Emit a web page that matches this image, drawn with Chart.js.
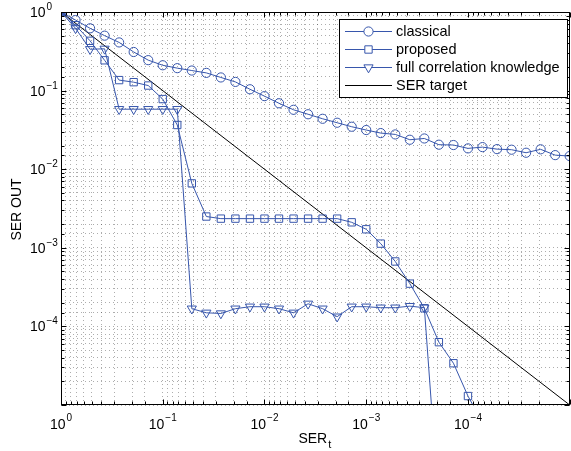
<!DOCTYPE html>
<html><head><meta charset="utf-8">
<script src="https://cdn.jsdelivr.net/npm/chart.js@4/dist/chart.umd.min.js"></script>
<style>
html,body{margin:0;padding:0;overflow:hidden;background:#fff;width:571px;height:451px}
#wrap{position:absolute;left:0;top:0;width:576px;height:451px}
</style>
</head><body><div id="wrap"><canvas id="c" width="576" height="451"></canvas></div>
<script>
// SER_t values (x axis)
const serT = [1, 0.7197, 0.5179, 0.3728, 0.2683, 0.1931, 0.1389,
  0.1, 0.07197, 0.05179, 0.03728, 0.02683, 0.01931, 0.01389,
  0.01, 0.007197, 0.005179, 0.003728, 0.002683, 0.001931, 0.001389,
  0.001, 7.197e-4, 5.179e-4, 3.728e-4, 2.683e-4, 1.931e-4, 1.389e-4,
  1e-4, 7.197e-5, 5.179e-5, 3.728e-5, 2.683e-5, 1.931e-5, 1.389e-5, 1e-5];
const classical = [1, 0.79, 0.62, 0.50, 0.41, 0.31, 0.244, 0.21, 0.193, 0.18, 0.168, 0.147,
  0.129, 0.104, 0.085, 0.069, 0.057, 0.050, 0.0438, 0.039, 0.0347, 0.0315, 0.0288, 0.0277,
  0.0237, 0.0246, 0.0205, 0.0203, 0.0184, 0.0191, 0.018, 0.0177, 0.0162, 0.0179, 0.0151, 0.0147];
const proposed = [1, 0.68, 0.43, 0.243, 0.136, 0.128, 0.116, 0.078, 0.0365, 0.0066, 0.0025,
  0.00235, 0.00235, 0.00235, 0.00235, 0.00235, 0.00235, 0.00235, 0.00235, 0.00235, 0.00211,
  0.00172, 0.00113, 0.00067, 0.00035, 0.00017, 6.3e-5, 3.4e-5, 1.3e-5, 6e-6];
const fullCorrelation = [1, 0.62, 0.336, 0.34, 0.058, 0.058, 0.058, 0.058, 0.058,
  1.68e-4, 1.49e-4, 1.46e-4, 1.68e-4, 1.78e-4, 1.78e-4, 1.68e-4, 1.49e-4, 1.94e-4, 1.68e-4,
  1.33e-4, 1.78e-4, 1.78e-4, 1.73e-4, 1.73e-4, 1.81e-4, 1.73e-4, 5e-7];
const targetX = [1, 1e-5];
const targetY = [1, 1e-5];
const seriesLabels = ['classical', 'proposed', 'full correlation knowledge', 'SER target'];
const xTickValues = [1, 0.1, 0.01, 0.001, 0.0001];
const xTickExponents = ['0', '\u22121', '\u22122', '\u22123', '\u22124'];
const yTickValues = [1, 0.1, 0.01, 0.001, 0.0001];
const yTickExponents = ['0', '\u22121', '\u22122', '\u22123', '\u22124'];
const xTitle = 'SER', xTitleSub = 't', yTitle = 'SER OUT';

const BLUE = 'rgb(55,86,172)';
const FONT = '"Liberation Sans", Arial, Helvetica, sans-serif';
const pts = (xs, ys) => ys.map((y, i) => ({x: xs[i], y}));

const markerDefs = [
  {style: 'circle', r: 4.6, rot: 0},
  {style: 'rect', r: 5.2, rot: 0},
  {style: 'triangle', r: 5.3, rot: 180},
  null
];

const decor = {
  id: 'decor',
  afterDatasetsDraw(chart) {
    const ctx = chart.ctx, a = chart.chartArea;
    const xs = chart.scales.x, ys = chart.scales.y;
    ctx.save();
    // box
    ctx.strokeStyle = '#000'; ctx.lineWidth = 1; ctx.setLineDash([]);
    const L = Math.round(a.left) + 0.5, T = Math.round(a.top) + 0.5;
    const R = Math.round(a.right) - 0.5, B = Math.round(a.bottom) - 0.5;
    ctx.strokeRect(L, T, R - L, B - T);
    // inward ticks
    const isMajor = v => Math.abs(Math.log10(v) - Math.round(Math.log10(v))) < 1e-6;
    ctx.beginPath();
    xs.ticks.forEach(t => {
      const px = Math.round(xs.getPixelForValue(t.value)) + 0.5;
      const len = isMajor(t.value) ? 5 : 3;
      ctx.moveTo(px, B); ctx.lineTo(px, B - len);
      ctx.moveTo(px, T); ctx.lineTo(px, T + len);
    });
    ys.ticks.forEach(t => {
      const py = Math.round(ys.getPixelForValue(t.value)) + 0.5;
      const len = isMajor(t.value) ? 5 : 3;
      ctx.moveTo(L, py); ctx.lineTo(L + len, py);
      ctx.moveTo(R, py); ctx.lineTo(R - len, py);
    });
    ctx.stroke();
    ctx.restore();

    // legend
    ctx.save();
    const lx = 339.5, ly = 19.5, lw = 228, lh = 78;
    ctx.fillStyle = '#fff'; ctx.fillRect(lx, ly, lw, lh);
    ctx.strokeStyle = '#000'; ctx.lineWidth = 1; ctx.strokeRect(lx, ly, lw, lh);
    const rowsY = [31, 49, 67, 85];
    chart.data.datasets.forEach((ds, i) => {
      const y = rowsY[i] + 0.5;
      ctx.strokeStyle = ds.borderColor; ctx.lineWidth = 1;
      ctx.beginPath(); ctx.moveTo(345, y); ctx.lineTo(392, y); ctx.stroke();
      const m = markerDefs[i];
      if (m) {
        ctx.fillStyle = '#fff'; ctx.strokeStyle = BLUE; ctx.lineWidth = 1;
        Chart.helpers.drawPoint(ctx, {pointStyle: m.style, radius: m.r, rotation: m.rot, borderWidth: 1}, 368.5, y);
      }
      ctx.fillStyle = '#000'; ctx.font = '14.5px ' + FONT;
      ctx.textAlign = 'left'; ctx.textBaseline = 'middle';
      ctx.fillText(ds.label, 396, rowsY[i] + 0.5);
    });
    ctx.restore();

    // tick labels
    ctx.save();
    ctx.fillStyle = '#000';
    yTickValues.forEach((v, i) => {
      const py = ys.getPixelForValue(v);
      ctx.font = '14px ' + FONT; ctx.textAlign = 'right'; ctx.textBaseline = 'alphabetic';
      ctx.fillText('10', 45.5, py + 5);
      ctx.font = '10px ' + FONT; ctx.textAlign = 'left';
      ctx.fillText(yTickExponents[i], 46.5, py - 2);
    });
    xTickValues.forEach((v, i) => {
      const px = xs.getPixelForValue(v);
      ctx.font = '14px ' + FONT;
      const w1 = ctx.measureText('10').width;
      ctx.font = '10px ' + FONT;
      const w2 = ctx.measureText(xTickExponents[i]).width;
      const x0 = px - (w1 + 1 + w2) / 2;
      ctx.textAlign = 'left'; ctx.textBaseline = 'alphabetic';
      ctx.font = '14px ' + FONT; ctx.fillText('10', x0, 428.5);
      ctx.font = '10px ' + FONT; ctx.fillText(xTickExponents[i], x0 + w1 + 1, 421);
    });
    // axis titles
    ctx.font = '14px ' + FONT;
    const wt = ctx.measureText(xTitle).width;
    ctx.font = '11px ' + FONT;
    const ws = ctx.measureText(xTitleSub).width;
    const cx = (a.left + a.right) / 2 - 1;
    const tx0 = cx - (wt + ws) / 2;
    ctx.font = '14px ' + FONT; ctx.textAlign = 'left'; ctx.textBaseline = 'alphabetic';
    ctx.fillText(xTitle, tx0, 443);
    ctx.font = '11px ' + FONT; ctx.fillText(xTitleSub, tx0 + wt + 1, 447.5);
    ctx.translate(21, (a.top + a.bottom) / 2 + 1);
    ctx.rotate(-Math.PI / 2);
    ctx.font = '14px ' + FONT; ctx.textAlign = 'center'; ctx.textBaseline = 'alphabetic';
    ctx.fillText(yTitle, 0, 0);
    ctx.restore();
  }
};

const mk = (label, xs, ys, i) => {
  const m = markerDefs[i];
  return {
    label, data: pts(xs, ys), borderColor: i < 3 ? BLUE : '#000', borderWidth: 1,
    pointStyle: m ? m.style : false, pointRadius: m ? m.r : 0, pointRotation: m ? m.rot : 0,
    pointBorderColor: BLUE, pointBackgroundColor: 'rgba(0,0,0,0)', pointBorderWidth: 1,
    tension: 0, fill: false
  };
};

const gridOpts = {color: 'rgba(0,0,0,0.32)', lineWidth: 1, drawTicks: false};
new Chart(document.getElementById('c'), {
  type: 'line',
  data: {datasets: [
    mk(seriesLabels[0], serT, classical, 0),
    mk(seriesLabels[1], serT, proposed, 1),
    mk(seriesLabels[2], serT, fullCorrelation, 2),
    mk(seriesLabels[3], targetX, targetY, 3)
  ]},
  options: {
    responsive: false, animation: false, devicePixelRatio: 1,
    layout: {padding: {left: 61, top: 12, right: 2, bottom: 46}},
    plugins: {legend: {display: false}, tooltip: {enabled: false}},
    scales: {
      x: {type: 'logarithmic', reverse: true, min: 1e-5, max: 1,
        ticks: {display: false}, grid: gridOpts, border: {display: false, dash: [1, 3]}},
      y: {type: 'logarithmic', min: 1e-5, max: 1,
        ticks: {display: false}, grid: gridOpts, border: {display: false, dash: [1, 3]}}
    }
  },
  plugins: [decor]
});
</script>
</body></html>
